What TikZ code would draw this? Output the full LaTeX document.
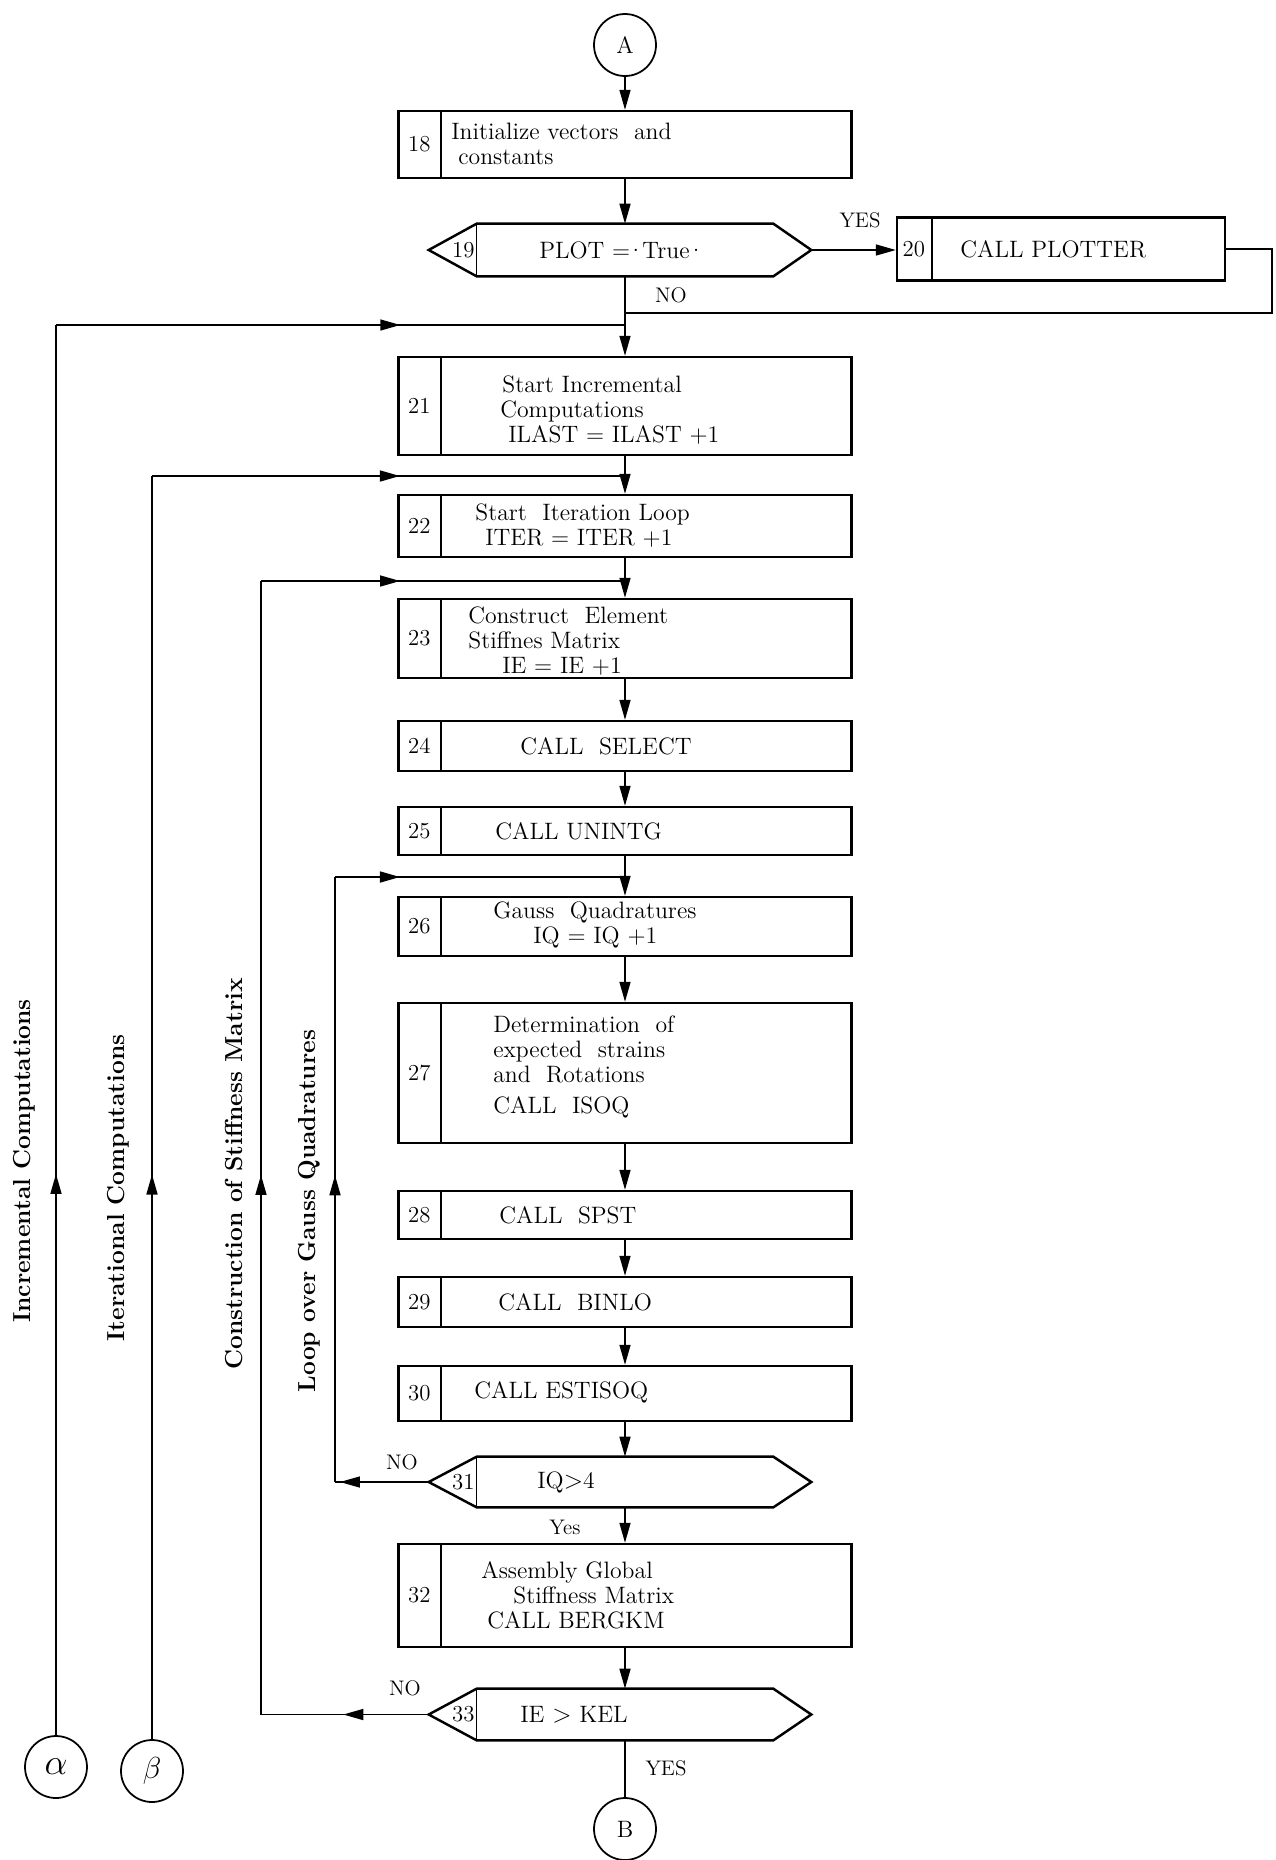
\documentclass[tikz,border=0pt]{standalone}
\usetikzlibrary{arrows.meta,decorations.markings,positioning}
\begin{document}
\begin{tikzpicture}[x=0.02cm, y=-0.02cm, >={Triangle[length=0.4cm,width=0.22cm]},
	font=\fontsize{13.5}{14.2}\selectfont,
	box/.style={draw, line width=1.4pt, inner sep=0pt},
	procbox/.style={box, minimum width=9.06cm},
	divider/.style={line width=0.8pt},
	num/.style={inner sep=0pt, font=\fontsize{13}{14}\selectfont},
	txt/.style={align=left, inner sep=0pt, anchor=west},
	lbl/.style={inner sep=0pt, font=\fontsize{12}{14}\selectfont},
	flow/.style={->, line width=0.9pt},
	link/.style={line width=0.9pt},
	conn/.style={draw, circle, line width=1pt, minimum size=1.24cm, inner sep=0pt},
	side/.style={rotate=90, inner sep=0pt, font=\fontsize{14}{16}\selectfont\bfseries},
	midarrow/.style={postaction={decorate,decoration={markings,mark=at position #1 with {\arrow{>}}}}}]

	\useasboundingbox (0,0) rectangle (1275,1860);

	% Anschlusskreise
	\node[conn] (A) at (625,45) {A};
	\node[conn] (B) at (625,1829) {B};
	\node[conn, font=\fontsize{20}{20}\selectfont] (alpha) at (56,1767) {$\alpha$};
	\node[conn, font=\fontsize{18}{20}\selectfont] (beta) at (152,1771) {$\beta$};

	% Kaesten
	\node[procbox, minimum height=1.34cm] (b18) at (625,144.5) {};
	\node[box, minimum width=6.56cm, minimum height=1.26cm] (b20) at (1061,249) {};
	\node[procbox, minimum height=1.96cm] (b21) at (625,406) {};
	\node[procbox, minimum height=1.24cm] (b22) at (625,526) {};
	\node[procbox, minimum height=1.58cm] (b23) at (625,638.5) {};
	\node[procbox, minimum height=1.0cm] (b24) at (625,746) {};
	\node[procbox, minimum height=0.96cm] (b25) at (625,831) {};
	\node[procbox, minimum height=1.18cm] (b26) at (625,926.5) {};
	\node[procbox, minimum height=2.8cm] (b27) at (625,1073) {};
	\node[procbox, minimum height=0.96cm] (b28) at (625,1215) {};
	\node[procbox, minimum height=1.0cm] (b29) at (625,1302) {};
	\node[procbox, minimum height=1.1cm] (b30) at (625,1393.5) {};
	\node[procbox, minimum height=2.06cm] (b32) at (625,1595.5) {};

	% Nummernspalte
	\foreach \b/\n in {b18/18,b21/21,b22/22,b23/23,b24/24,b25/25,b26/26,b27/27,b28/28,b29/29,b30/30,b32/32} {
		\draw[divider] ([xshift=0.87cm]\b.north west) -- ([xshift=0.87cm]\b.south west);
		\node[num] (n\n) at ([xshift=0.44cm]\b.west) {\n};
	}
	\draw[divider] ([xshift=0.72cm]b20.north west) -- ([xshift=0.72cm]b20.south west);
	\node[num] (n20) at ([xshift=0.36cm]b20.west) {20};

	% Entscheidungen
	\node[minimum width=5.92cm, minimum height=1.04cm, inner sep=0pt] (d19) at (625,250) {};
	\node[minimum width=5.92cm, minimum height=1.0cm, inner sep=0pt] (d31) at (625,1482) {};
	\node[minimum width=5.92cm, minimum height=1.02cm, inner sep=0pt] (d33) at (625,1714.5) {};
	\foreach \d/\n in {d19/19,d31/31,d33/33} {
		\coordinate (\d-l) at ([xshift=-0.96cm]\d.west);
		\coordinate (\d-r) at ([xshift=0.76cm]\d.east);
		\draw[box] (\d.north west) -- (\d.north east) -- (\d-r) -- (\d.south east)
			-- (\d.south west) -- (\d-l) -- cycle;
		\draw[divider] (\d.north west) -- (\d.south west);
		\node[num, anchor=east] (n\n) at ([xshift=-1pt]\d.west) {\n};
	}

	% Texte
	\node[txt] (t18) at (451,144) {Initialize vectors\ \ and\\\hspace*{0.14cm}constants};
	\node[txt] (t19) at (539,250) {PLOT =\kern-0.15em·\kern-0.1em True\kern-0.1em·};
	\node[txt] (t20) at (960,249) {CALL\ PLOTTER};
	\node[txt] (t21) at (500,410) {\hspace*{0.04cm}Start Incremental\\Computations\\\hspace*{0.16cm}ILAST = ILAST +1};
	\node[txt] (t22) at (475,526) {Start\ \ Iteration Loop\\\hspace*{0.2cm}ITER = ITER +1};
	\node[txt] (t23) at (468,641) {Construct\ \ Element\\Stiffnes Matrix\\\hspace*{0.68cm}IE = IE +1};
	\node[txt] (t24) at (520,746) {CALL\ \ SELECT};
	\node[txt] (t25) at (495,831) {CALL\ UNINTG};
	\node[txt] (t26) at (493,925) {Gauss\ \ Quadratures\\\hspace*{0.8cm}IQ = IQ +1};
	\node[txt] (t27) at (493,1067) {Determination\ \ of\\expected\ \ strains\\and\ \ Rotations\\[0.12cm]CALL\ \ ISOQ};
	\node[txt] (t28) at (499,1215) {CALL\ \ SPST};
	\node[txt] (t29) at (498,1302) {CALL\ \ BINLO};
	\node[txt] (t30) at (474,1392) {CALL ESTISOQ};
	\node[txt] (t31) at (537,1482) {IQ$>$4};
	\node[txt] (t32) at (481,1595) {Assembly Global\\\hspace*{0.64cm}Stiffness Matrix\\\hspace*{0.12cm}CALL BERGKM};
	\node[txt] (t33) at (520,1715) {IE $>$ KEL};

	% Ja/Nein
	\node[lbl] (yes19) at (860,220) {YES};
	\node[lbl] (no19) at (671,295) {NO};
	\node[lbl] (no31) at (402,1462) {NO};
	\node[lbl] (yes31) at (565,1527) {Yes};
	\node[lbl] (no33) at (405,1688) {NO};
	\node[lbl] (yes33) at (666,1768) {YES};

	% Schleifenbeschriftung
	\node[side] (linc) at (24,1161) {Incremental Computations};
	\node[side] (liter) at (118,1188) {Iterational Computations};
	\node[side] (lstiff) at (234,1174) {Construction of Stiffness Matrix};
	\node[side] (lgauss) at (309,1211) {Loop over Gauss Quadratures};

	% Hauptfluss
	\draw[flow] (A) -- (b18);
	\draw[flow] (b18) -- (d19);
	\draw[flow] (d19-r) -- (d19-r -| b20.west);
	\draw[flow] (d19) -- (b21);
	\draw[flow] (b21) -- (b22);
	\draw[flow] (b22) -- (b23);
	\draw[flow] (b23) -- (b24);
	\draw[flow] (b24) -- (b25);
	\draw[flow] (b25) -- (b26);
	\draw[flow] (b26) -- (b27);
	\draw[flow] (b27) -- (b28);
	\draw[flow] (b28) -- (b29);
	\draw[flow] (b29) -- (b30);
	\draw[flow] (b30) -- (d31);
	\draw[flow] (d31) -- (b32);
	\draw[flow] (b32) -- (d33);
	\draw[link] (d33) -- (B);

	% Ruecklauf vom Plotter
	\coordinate (j20) at (625,313);
	\coordinate (k20) at (1272,313);
	\draw[link] (b20.east) -| (k20) -- (j20);

	% Schleifen
	\coordinate (j21) at (625,325);
	\coordinate (j22) at (625,476);
	\coordinate (j23) at (625,581);
	\coordinate (j26) at (625,877);
	\coordinate (k31) at (335,1482);
	\coordinate (k33) at (261,1714.5);

	\draw[link, midarrow=0.398] (alpha) -- (alpha |- j21);
	\draw[link, midarrow=0.605] (alpha |- j21) -- (j21);

	\draw[link, midarrow=0.447] (beta) -- (beta |- j22);
	\draw[link, midarrow=0.524] (beta |- j22) -- (j22);

	\draw[link, midarrow=0.509] (d33-l) -- (k33);
	\draw[link, midarrow=0.476] (k33) -- (k33 |- j23);
	\draw[link, midarrow=0.382] (k33 |- j23) -- (j23);

	\draw[link, midarrow=0.947] (d31-l) -- (k31);
	\draw[link, midarrow=0.507] (k31) -- (k31 |- j26);
	\draw[link, midarrow=0.224] (k31 |- j26) -- (j26);
\end{tikzpicture}
\end{document}
